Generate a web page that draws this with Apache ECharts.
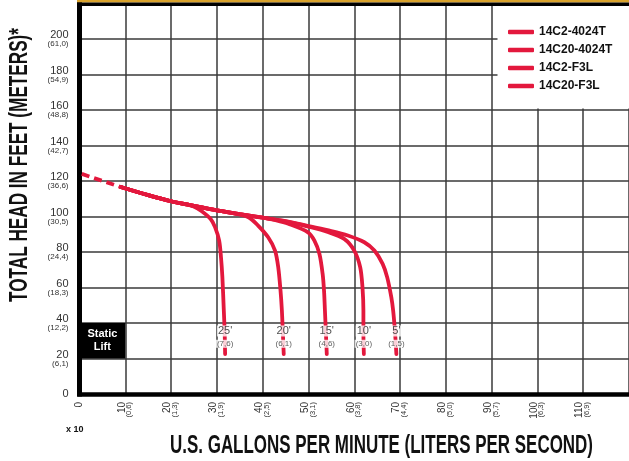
<!DOCTYPE html>
<html>
<head>
<meta charset="utf-8">
<script src="https://cdn.jsdelivr.net/npm/echarts@6/dist/echarts.min.js"></script>
<style>
html,body{margin:0;padding:0;background:#fff;}
#chart{width:629px;height:461px;}
</style>
</head>
<body>
<div id="chart"></div>
<script>
// ---- data ----
const legendNames = ['14C2-4024T', '14C20-4024T', '14C2-F3L', '14C20-F3L'];
const xMeters = ['', '(0,6)', '(1,3)', '(1,9)', '(2,5)', '(3,1)', '(3,8)', '(4,4)', '(5,0)', '(5,7)', '(6,3)', '(6,9)', ''];
const yMeters = ['', '(6,1)', '(12,2)', '(18,3)', '(24,4)', '(30,5)', '(36,6)', '(42,7)', '(48,8)', '(54,9)', '(61,0)', ''];
const liftFeet = ["25'", "20'", "15'", "10'", "5'"];
const liftMeters = ['(7,6)', '(6,1)', '(4,6)', '(3,0)', '(1,5)'];
const staticLift = [0, 10, 20, 40]; // x0, x1, y0, y1

const dashedLead = [[0.5,124],[3,121.8],[6,119.2],[9,116.6]];
const curve25 = [[9,116.6],[15,112],[20,108.6],[23,107],[24.8,105.8],[26.7,103],[28.6,98.7],[29.6,94],[30.5,86.4],[30.9,77],[31.2,66],[31.5,48],[31.7,35],[31.8,22.5]];
const curve20 = [[9,116.6],[15,112],[20,108.6],[25,106],[30,103.5],[34,101.6],[36.9,99.6],[39,94.9],[41.2,88.3],[42.7,80.8],[43.4,71.4],[43.9,58.2],[44.2,46.9],[44.4,35],[44.6,22.5]];
const curve15 = [[9,116.6],[15,112],[20,108.6],[25,106],[30,103.5],[35,101.3],[40,99.3],[43,97.8],[45.6,95.9],[49.9,91.1],[51.3,86.4],[52.4,78.9],[53.1,67.6],[53.4,58.2],[53.6,46.9],[53.8,35],[54,22.5]];
const curve10 = [[9,116.6],[15,112],[20,108.6],[25,106],[30,103.5],[35,101.3],[40,99.3],[45,97.3],[50,94.3],[54.2,91.3],[57.8,87.4],[60,80.8],[61.3,71.4],[61.8,60],[62,46.9],[62,35],[62.1,22.5]];
const curve5 = [[9,116.6],[15,112],[20,108.6],[25,106],[30,103.5],[35,101.3],[40,99.3],[45,97.4],[50,94.6],[55,91.8],[58.6,89.3],[62.2,85.5],[64.4,80.8],[66.2,73.3],[67.2,65.7],[68.1,54.4],[68.5,46.9],[68.9,35],[69.2,22.5]];

// ---- styles ----
const RED = '#e3183d';
const FONT = '"Liberation Sans", Arial, sans-serif';
const TITLE_FONT = '"Liberation Sans Narrow", "Liberation Sans", Arial, sans-serif';

function fitScale(text, size, target) {
  const c = document.createElement('canvas').getContext('2d');
  c.font = 'bold ' + size + 'px ' + TITLE_FONT;
  return target / c.measureText(text).width;
}

const curves = [curve25, curve20, curve15, curve10, curve5];
const curveEndX = curves.map(c => c[c.length - 1][0]);

const chart = echarts.init(document.getElementById('chart'), null, {renderer: 'canvas'});

const yTitle = 'TOTAL HEAD IN FEET (METERS)*';
const xTitle = 'U.S. GALLONS PER MINUTE (LITERS PER SECOND)';

const series = [];
series.push({
  type: 'line', data: dashedLead, symbol: 'none', silent: true, z: 3,
  lineStyle: {color: RED, width: 3.8, type: [8, 5], cap: 'butt'},
  markArea: {
    silent: true,
    itemStyle: {color: '#000', opacity: 1},
    label: {show: true, position: 'inside', formatter: 'Static\nLift', color: '#fff',
      fontWeight: 'bold', fontSize: 11, lineHeight: 13, fontFamily: FONT},
    data: [[{xAxis: staticLift[0], yAxis: staticLift[2]}, {xAxis: staticLift[1], yAxis: staticLift[3]}]]
  }
});
curves.forEach(c => series.push({
  type: 'line', data: c, symbol: 'none', smooth: 0.3, silent: true, z: 3,
  lineStyle: {color: RED, width: 3.8, cap: 'round'}
}));
series.push({
  type: 'scatter', symbolSize: 0, silent: true, z: 5,
  data: curveEndX.map((x, i) => [x, 35.5, liftFeet[i]]),
  label: {show: true, position: 'inside', formatter: p => p.data[2], color: '#222',
    fontSize: 11, fontFamily: FONT, backgroundColor: '#fff', padding: [0, 1, 0, 1], lineHeight: 11}
});
series.push({
  type: 'scatter', symbolSize: 0, silent: true, z: 5,
  data: curveEndX.map((x, i) => [x, 28.3, liftMeters[i]]),
  label: {show: true, position: 'inside', formatter: p => p.data[2], color: '#333',
    fontSize: 8, fontFamily: FONT, backgroundColor: '#fff', padding: [0, 1, 0, 1], lineHeight: 8}
});
legendNames.forEach(n => series.push({
  type: 'line', name: n, data: [], symbol: 'none', color: RED, lineStyle: {color: RED}, itemStyle: {color: RED}
}));

const option = {
  animation: false,
  backgroundColor: '#fff',
  grid: {left: 79.5, right: -6, top: 3.5, bottom: 67, containLabel: false},
  legend: {
    data: legendNames.map(n => ({name: n, icon: 'roundRect'})),
    orient: 'vertical', left: 503, top: 21, itemWidth: 26, itemHeight: 4.5, itemGap: 6,
    selectedMode: false, z: 10,
    textStyle: {fontSize: 12, fontWeight: 'bold', color: '#111', fontFamily: FONT, lineHeight: 12}
  },
  xAxis: {
    type: 'value', min: 0, max: 120, interval: 10,
    axisLine: {show: true, onZero: false, lineStyle: {color: '#000', width: 4.5, cap: 'square'}},
    axisTick: {show: false},
    splitLine: {show: true, lineStyle: {color: '#3a3a3a', width: 1.5}},
    axisLabel: {
      rotate: 90, margin: 8, showMaxLabel: false,
      formatter: v => {
        const i = Math.round(v / 10);
        if (v === 0) return '{a|0}';
        if (v >= 120) return '';
        return '{a|' + v + '}\n{b|' + xMeters[i] + '}';
      },
      rich: {
        a: {fontSize: 10, color: '#333', fontFamily: FONT, lineHeight: 8},
        b: {fontSize: 7.5, color: '#333', fontFamily: FONT, lineHeight: 7}
      }
    }
  },
  yAxis: {
    type: 'value', min: 0, max: 220, interval: 20,
    axisLine: {show: true, onZero: false, lineStyle: {color: '#000', width: 5, cap: 'square'}},
    axisTick: {show: false},
    splitLine: {show: true, lineStyle: {color: '#3a3a3a', width: 1.5}},
    axisLabel: {
      margin: 11, showMaxLabel: false,
      formatter: v => {
        const i = Math.round(v / 20);
        if (v === 0) return '{a|0}';
        if (v >= 220) return '';
        return '{a|' + v + '}\n{b|' + yMeters[i] + '}';
      },
      rich: {
        a: {fontSize: 11, color: '#333', fontFamily: FONT, lineHeight: 10, align: 'right'},
        b: {fontSize: 8, color: '#333', fontFamily: FONT, lineHeight: 8, align: 'right'}
      }
    }
  },
  graphic: [
    {type: 'rect', z: 8, shape: {x: 77, y: 0, width: 560, height: 2.5}, style: {fill: '#d9a22b'}},
    {type: 'rect', z: 8, shape: {x: 77, y: 2.5, width: 560, height: 3.5}, style: {fill: '#000'}},
    {type: 'rect', z: 1, shape: {x: 497.5, y: 6, width: 140, height: 102.5}, style: {fill: '#fff'}},
    {type: 'text', z: 8, x: 19.5, y: 165, rotation: Math.PI / 2, scaleX: fitScale(yTitle, 26, 274), scaleY: 1,
      style: {text: yTitle, fontSize: 26, fontWeight: 'bold', fontFamily: TITLE_FONT, fill: '#111',
        align: 'center', verticalAlign: 'middle', textAlign: 'center', textVerticalAlign: 'middle'}},
    {type: 'text', z: 8, x: 381.5, y: 446, scaleX: fitScale(xTitle, 25, 423), scaleY: 1,
      style: {text: xTitle, fontSize: 25, fontWeight: 'bold', fontFamily: TITLE_FONT, fill: '#111',
        align: 'center', verticalAlign: 'middle', textAlign: 'center', textVerticalAlign: 'middle'}},
    {type: 'text', z: 8, x: 66, y: 430,
      style: {text: 'x 10', fontSize: 9, fontWeight: 'bold', fontFamily: FONT, fill: '#111',
        align: 'left', verticalAlign: 'middle', textAlign: 'left', textVerticalAlign: 'middle'}}
  ],
  series: series
};
chart.setOption(option);
</script>
</body>
</html>
